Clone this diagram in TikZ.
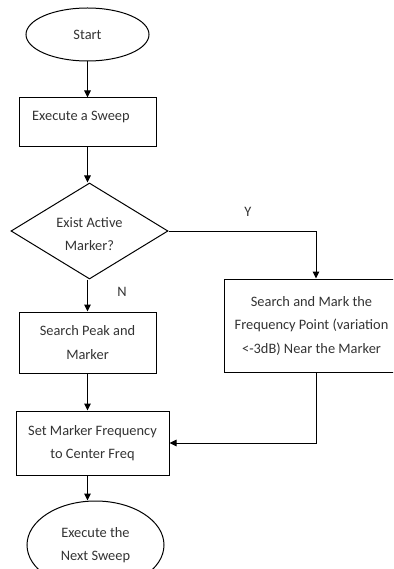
\documentclass[tikz,border=0pt]{standalone}
\usepackage{fontspec}
\setmainfont{Carlito}
\usetikzlibrary{shapes.geometric,arrows.meta}
\begin{document}
\begin{tikzpicture}[x=1pt,y=-1pt,
  every node/.style={font=\fontsize{14.4}{23.5}\selectfont, text=black!80},
  box/.style={draw, line width=1pt, inner sep=0pt, align=center},
  oval/.style={draw, ellipse, line width=1pt, inner sep=0pt, align=center},
  dia/.style={draw, diamond, line width=1pt, inner sep=0pt},
  txt/.style={inner sep=0pt, align=center},
  arr/.style={line width=1pt, -{Triangle[length=7pt,width=6.5pt]}},
  ln/.style={line width=1pt}]
\clip (0,0) rectangle (393,569);
\useasboundingbox (0,0) rectangle (393,569);
\node[oval, minimum width=123pt, minimum height=53pt] (start) at (87.5,34.5) {Start};
\node[box, minimum width=137pt, minimum height=49pt] (sweep) at (87.5,122.5) {};
\node[txt, anchor=west] (sweept) at (32,117) {Execute a Sweep};
\node[dia, minimum width=157pt, minimum height=96pt] (dia) at (89.5,231) {};
\node[txt] (diat) at (89.5,234) {Exist Active\\Marker?};
\node[box, minimum width=137pt, minimum height=61pt] (peak) at (87.5,342.5) {Search Peak and\\Marker};
\node[box, minimum width=175pt, minimum height=93pt] (right) at (311.5,325.5) {Search and Mark the\\Frequency Point (variation\\<-3dB) Near the Marker};
\node[box, minimum width=153pt, minimum height=64pt] (set) at (92.5,443) {Set Marker Frequency\\to Center Freq};
\node[oval, minimum width=137pt, minimum height=88pt] (next) at (95.5,545) {Execute the\\Next Sweep};
\node[txt] (N) at (122,292) {N};
\node[txt] (Y) at (248,212) {Y};
\coordinate (rt) at (316,231);
\draw[arr] (start.south) -- (sweep.north);
\draw[arr] (sweep.south) -- (sweep.south |- dia.north);
\draw[arr] (peak.north |- dia.south) -- (peak.north);
\draw[arr] (dia.east) -- (rt) -- (rt |- right.north);
\draw[arr] (peak.south) -- (peak.south |- set.north);
\draw[arr] (rt |- right.south) |- (set.east);
\draw[arr] (peak.south |- set.south) -- (peak.south |- next.north);
\end{tikzpicture}
\end{document}
